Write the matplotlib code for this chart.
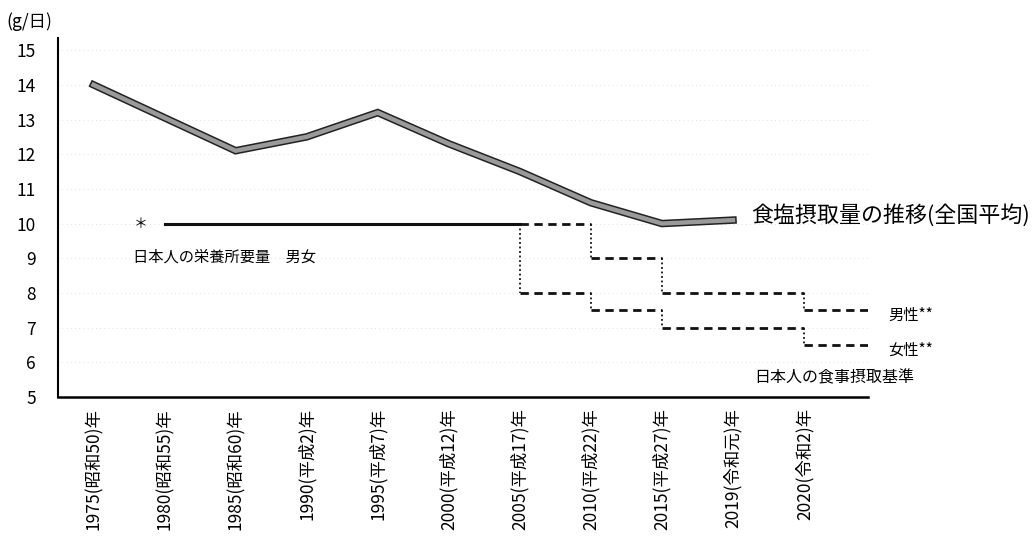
import matplotlib
matplotlib.use('Agg')
import matplotlib.pyplot as plt
import matplotlib.patheffects as pe
import numpy as np

plt.rcParams['font.family'] = ['Noto Sans CJK JP', 'DejaVu Sans']

# x categories
years = ['1975(昭和50)年', '1980(昭和55)年', '1985(昭和60)年', '1990(平成2)年',
         '1995(平成7)年', '2000(平成12)年', '2005(平成17)年', '2010(平成22)年',
         '2015(平成27)年', '2019(令和元)年', '2020(令和2)年']

# salt intake, national average (g/day)
salt = [14.0, 13.05, 12.1, 12.5, 13.2, 12.3, 11.5, 10.6, 10.0, 10.1]

# old nutrient requirement (both sexes), 1980 -> 2005
req_start, req_end = 1, 6
req_value = 10

# dietary reference intakes: index where each standard starts
dri_idx = [6, 7, 8, 10]
dri_male = [10, 9, 8, 7.5]
dri_female = [8, 7.5, 7, 6.5]

x_end = 10.9

fig = plt.figure(figsize=(10.33, 5.4), dpi=100)
ax = fig.add_axes([58/1033, 143/540, 810/1033, 359/540])

x = np.arange(len(years))

# faint grid
for v in range(6, 16):
    ax.axhline(v, color='#d8d8d8', lw=0.6, ls=(0, (1, 4)), zorder=0)

# main line
ax.plot(x[:len(salt)], salt, color='#9a9a9a', lw=3.2, solid_joinstyle='miter',
        path_effects=[pe.Stroke(linewidth=5.4, foreground='#222222'), pe.Normal()],
        zorder=5)

# nutrient requirement line
ax.plot([req_start, req_end], [req_value, req_value], color='#111111', lw=2.2, zorder=4)
ax.text(req_start - 0.33, req_value, '＊', ha='center', va='center', fontsize=10)

# step lines for the DRI standards
def draw_steps(vals, start_from):
    prev = start_from
    for i, v in enumerate(vals):
        x0 = dri_idx[i]
        x1 = dri_idx[i + 1] if i + 1 < len(dri_idx) else x_end
        if prev is not None and prev != v:
            ax.plot([x0, x0], [prev, v], color='#111111', lw=1.3, ls=(0, (1, 1.5)), zorder=4)
        ax.plot([x0, x1], [v, v], color='#111111', lw=2.0, ls=(0, (3, 2)), zorder=4)
        prev = v

draw_steps(dri_male, req_value)
draw_steps(dri_female, req_value)

# labels
ax.text(9.26, 10.25, '食塩摂取量の推移(全国平均)', ha='left', va='center', fontsize=15.8)
ax.text(0.56, 9.03, '日本人の栄養所要量　男女', ha='left', va='center', fontsize=11)
ax.text(11.18, 7.35, '男性**', ha='left', va='center', fontsize=11)
ax.text(11.18, 6.35, '女性**', ha='left', va='center', fontsize=11)
ax.text(10.42, 5.55, '日本人の食事摂取基準', ha='center', va='center', fontsize=11.5)
fig.text(0.006, 1 - 22/540, '(g/日)', ha='left', va='center', fontsize=12.5)

ax.set_xlim(-0.5, x_end)
ax.set_ylim(5, 15.35)
ax.set_yticks(range(5, 16))
ax.set_xticks(x)
ax.set_xticklabels(years, rotation=90, va='top', ha='center', fontsize=12.5)
ax.tick_params(axis='both', length=0)
ax.tick_params(axis='y', pad=16, labelsize=12.5)
ax.tick_params(axis='x', pad=8)
for s in ['top', 'right']:
    ax.spines[s].set_visible(False)
ax.spines['left'].set_linewidth(1.5)
ax.spines['bottom'].set_linewidth(1.8)

fig.savefig('out.png', dpi=100)
